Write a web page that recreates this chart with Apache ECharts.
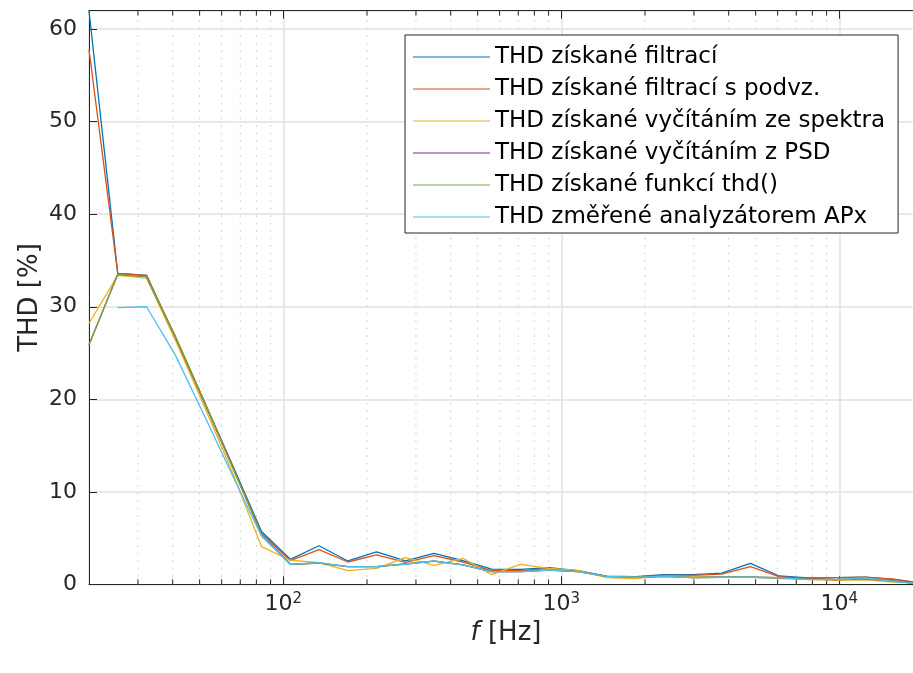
<!DOCTYPE html>
<html>
<head>
<meta charset="utf-8">
<script src="https://cdn.jsdelivr.net/npm/echarts@6/dist/echarts.min.js"></script>
<style>
  html, body { margin: 0; padding: 0; background: #ffffff; }
  #chart { width: 913px; height: 673px; }
</style>
</head>
<body>
<div id="chart"></div>
<script>
// Measurement frequencies [Hz] (30 log-spaced points, 20 Hz .. 20 kHz)
const freqs = [20, 25.379, 32.205, 40.867, 51.859, 65.807, 83.507, 105.97, 134.47, 170.64,
  216.53, 274.77, 348.67, 442.45, 561.45, 712.46, 904.08, 1147.2, 1455.8, 1847.4,
  2344.2, 2974.8, 3774.9, 4790.2, 6078.6, 7713.6, 9788.3, 12421, 15762, 20000];

// THD [%] for each method
const thdFiltrace = [62.0, 33.6, 33.4, 26.7, 19.8, 12.8, 5.7, 2.7, 4.17, 2.52,
  3.5, 2.52, 3.35, 2.55, 1.65, 1.61, 1.8, 1.47, 0.88, 0.83,
  1.04, 1.04, 1.2, 2.27, 0.9, 0.68, 0.72, 0.78, 0.5, 0.1];
const thdFiltracePodvz = [57.8, 33.6, 33.4, 26.6, 19.7, 12.7, 5.5, 2.55, 3.74, 2.41,
  3.17, 2.38, 3.09, 2.41, 1.47, 1.47, 1.73, 1.45, 0.86, 0.8,
  0.97, 0.97, 1.11, 1.9, 0.83, 0.65, 0.72, 0.76, 0.55, 0.1];
const thdSpektrum = [28.2, 33.4, 33.1, 26.4, 19.3, 12.0, 4.07, 2.6, 2.34, 1.47,
  1.73, 2.88, 2.05, 2.81, 1.04, 2.16, 1.73, 1.5, 0.72, 0.61,
  0.9, 0.86, 0.79, 0.79, 0.61, 0.53, 0.43, 0.47, 0.25, 0.05];
const thdPsd = [25.9, 33.5, 33.25, 26.8, 19.8, 12.6, 5.4, 2.16, 2.3, 1.9,
  1.9, 2.2, 2.5, 2.1, 1.36, 1.36, 1.54, 1.36, 0.86, 0.76,
  0.86, 0.72, 0.76, 0.76, 0.72, 0.55, 0.5, 0.6, 0.35, 0.02];
const thdFunkce = [25.9, 33.5, 33.25, 26.8, 19.8, 12.6, 5.4, 2.16, 2.3, 1.9,
  1.9, 2.2, 2.5, 2.1, 1.36, 1.36, 1.54, 1.36, 0.86, 0.76,
  0.86, 0.72, 0.76, 0.76, 0.72, 0.55, 0.5, 0.6, 0.35, 0.02];
const thdAPx = [null, 29.9, 30.0, 24.8, 18.3, 11.7, 5.2, 2.16, 2.34, 1.9,
  1.9, 2.16, 2.52, 2.09, 1.36, 1.36, 1.54, 1.36, 0.86, 0.76,
  0.86, 0.72, 0.76, 0.76, 0.7, 0.5, 0.53, 0.7, 0.3, 0.05];

const seriesNames = [
  'THD získané filtrací',
  'THD získané filtrací s podvz.',
  'THD získané vyčítáním ze spektra',
  'THD získané vyčítáním z PSD',
  'THD získané funkcí thd()',
  'THD změřené analyzátorem APx'
];
const seriesValues = [thdFiltrace, thdFiltracePodvz, thdSpektrum, thdPsd, thdFunkce, thdAPx];
const seriesColors = ['#0072BD', '#D95319', '#EDB120', '#7E2F8E', '#77AC30', '#4DBEEE'];

// Axis ranges
const X_MIN = 20, X_MAX = 20000;
const Y_MIN = 0, Y_MAX = 62, Y_STEP = 10;

// Minor decade positions (2..9 x 10^n) for the dotted grid and short ticks
const minorFreqs = [];
for (let dec = 10; dec <= 10000; dec *= 10) {
  for (let m = 2; m <= 9; m++) {
    const f = m * dec;
    if (f > X_MIN && f < X_MAX) minorFreqs.push(f);
  }
}

const AXIS_COLOR = '#262626';
const AXIS_FONT = 'DejaVu Sans, Verdana, sans-serif';

const chart = echarts.init(document.getElementById('chart'), null, { renderer: 'canvas' });

const lineSeries = seriesNames.map((name, i) => ({
  name: name,
  type: 'line',
  data: freqs.map((f, j) => [f, seriesValues[i][j]]),
  showSymbol: false,
  symbol: 'none',
  connectNulls: false,
  lineStyle: { color: seriesColors[i], width: 1.3 },
  itemStyle: { color: seriesColors[i] },
  z: 3 + i,
  animation: false
}));

const minorGridSeries = {
  type: 'custom',
  xAxisIndex: 0,
  yAxisIndex: 0,
  silent: true,
  z: 1,
  animation: false,
  data: minorFreqs.map(f => [f, Y_MIN]),
  renderItem: function (params, api) {
    const f = api.value(0);
    const b = api.coord([f, Y_MIN]);
    const t = api.coord([f, Y_MAX]);
    return {
      type: 'group',
      children: [
        { type: 'line', shape: { x1: b[0], y1: b[1], x2: t[0], y2: t[1] },
          style: { stroke: '#c4c4c4', lineWidth: 1, lineDash: [1.5, 6] } },
        { type: 'line', shape: { x1: b[0], y1: b[1], x2: b[0], y2: b[1] - 5 },
          style: { stroke: AXIS_COLOR, lineWidth: 1 } },
        { type: 'line', shape: { x1: t[0], y1: t[1], x2: t[0], y2: t[1] + 5 },
          style: { stroke: AXIS_COLOR, lineWidth: 1 } }
      ]
    };
  }
};

function decadeLabel(v) {
  const e = Math.log10(v);
  if (Math.abs(e - Math.round(e)) > 1e-6) return '';
  return '{b|10}{s|' + Math.round(e) + '}';
}

chart.setOption({
  backgroundColor: '#ffffff',
  animation: false,
  // the plot box runs past the right edge of the canvas
  grid: {
    left: 89, width: 834, top: 10.7, bottom: 88.7,
    containLabel: false,
    outerBoundsMode: 'none'
  },
  legend: {
    orient: 'vertical',
    left: 405,
    top: 35,
    data: seriesNames,
    icon: 'rect',
    itemWidth: 77,
    itemHeight: 1,
    itemGap: 8,
    padding: [10, 13, 4, 8],
    backgroundColor: '#ffffff',
    borderColor: AXIS_COLOR,
    borderWidth: 1,
    borderRadius: 0,
    selectedMode: false,
    textStyle: { fontFamily: 'DejaVu Sans', fontSize: 23, color: '#000000', lineHeight: 24 }
  },
  xAxis: [
    {
      type: 'log',
      logBase: 10,
      min: X_MIN,
      max: X_MAX,
      position: 'bottom',
      name: '{i|f} [Hz]',
      nameLocation: 'middle',
      nameGap: 35,
      nameTextStyle: {
        color: AXIS_COLOR,
        fontFamily: AXIS_FONT,
        fontSize: 26,
        rich: {
          i: { fontStyle: 'italic', fontFamily: AXIS_FONT, fontSize: 26, color: AXIS_COLOR }
        }
      },
      axisLine: { show: true, onZero: false, lineStyle: { color: AXIS_COLOR, width: 1 } },
      axisTick: { show: true, inside: true, length: 8, lineStyle: { color: AXIS_COLOR, width: 1 } },
      minorTick: { show: false },
      splitLine: { show: true, lineStyle: { color: '#e2e2e2', width: 1.5 } },
      axisLabel: {
        show: true,
        margin: 7,
        formatter: decadeLabel,
        color: AXIS_COLOR,
        rich: {
          b: { fontFamily: AXIS_FONT, fontSize: 22, color: AXIS_COLOR, lineHeight: 24, verticalAlign: 'bottom' },
          s: { fontFamily: AXIS_FONT, fontSize: 15, color: AXIS_COLOR, lineHeight: 15, verticalAlign: 'top' }
        }
      }
    },
    {
      type: 'log',
      logBase: 10,
      min: X_MIN,
      max: X_MAX,
      position: 'top',
      axisLine: { show: true, onZero: false, lineStyle: { color: AXIS_COLOR, width: 1 } },
      axisTick: { show: true, inside: true, length: 8, lineStyle: { color: AXIS_COLOR, width: 1 } },
      axisLabel: { show: false },
      splitLine: { show: false }
    }
  ],
  yAxis: [
    {
      type: 'value',
      min: Y_MIN,
      max: Y_MAX,
      interval: Y_STEP,
      name: 'THD [%]',
      nameLocation: 'middle',
      nameGap: 46,
      nameMoveOverlap: false,
      nameTextStyle: { color: AXIS_COLOR, fontFamily: AXIS_FONT, fontSize: 26 },
      axisLine: { show: true, lineStyle: { color: AXIS_COLOR, width: 1 } },
      axisTick: { show: true, inside: true, length: 8, lineStyle: { color: AXIS_COLOR, width: 1 } },
      splitLine: { show: true, lineStyle: { color: '#e2e2e2', width: 1.5 } },
      axisLabel: {
        show: true,
        margin: 12,
        showMaxLabel: false,
        color: AXIS_COLOR,
        fontFamily: AXIS_FONT,
        fontSize: 22
      }
    }
  ],
  series: [minorGridSeries].concat(lineSeries)
});
</script>
</body>
</html>
